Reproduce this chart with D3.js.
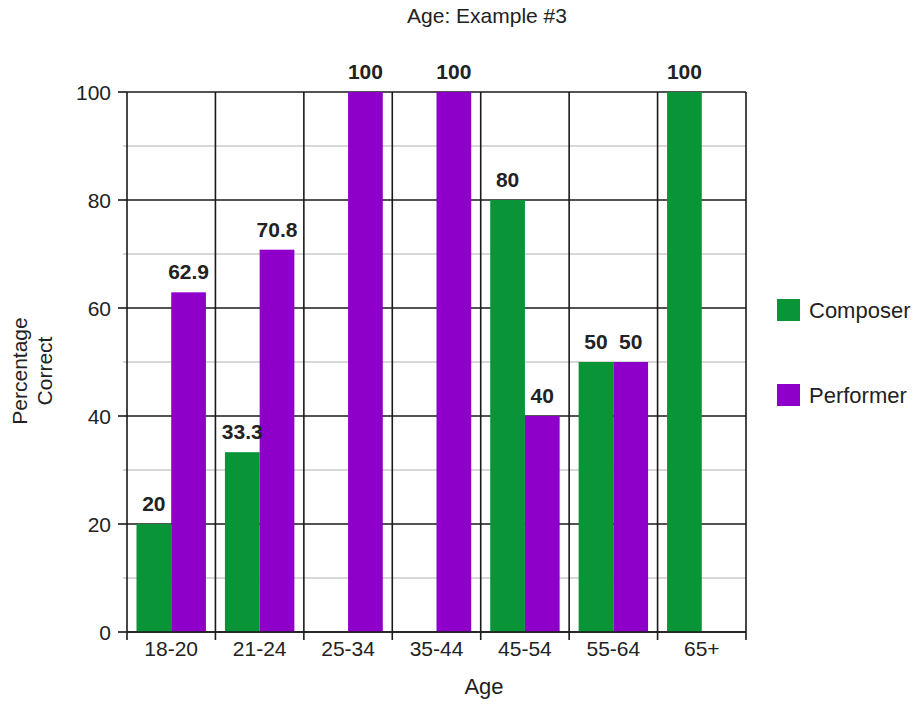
<!DOCTYPE html>
<html>
<head>
<meta charset="utf-8">
<script src="https://cdn.jsdelivr.net/npm/d3@7"></script>
<style>
  html, body { margin: 0; padding: 0; background: #fff; }
  svg { display: block; font-family: "Liberation Sans", Arial, sans-serif; }
</style>
</head>
<body>
<svg id="chart" width="919" height="704"></svg>
<script>
const categories = ["18-20", "21-24", "25-34", "35-44", "45-54", "55-64", "65+"];
const seriesNames = ["Composer", "Performer"];
const composer = [20, 33.3, null, null, 80, 50, 100];
const performer = [62.9, 70.8, 100, 100, 40, 50, null];
const yTicks = [0, 20, 40, 60, 80, 100];
const yMinorTicks = [10, 30, 50, 70, 90];
const colors = ["#0a9438", "#8e00c9"];
const chartTitle = "Age: Example #3";
const xTitle = "Age";
const yTitle = ["Percentage", "Correct"];

(function () {
const svg = d3.select("#chart");
const pL = 127, pR = 746, pT = 92, pB = 632;

const x0 = d3.scaleBand().domain(categories).range([pL, pR]).padding(0);
const bw = x0.bandwidth();
const x1 = d3.scaleBand().domain(seriesNames).range([9.5, bw - 9.5]).padding(0);
const y = d3.scaleLinear().domain([0, 100]).range([pB, pT]);

const textColor = "#222";

// minor gridlines
svg.append("g").selectAll("line").data(yMinorTicks).join("line")
  .attr("x1", pL - 4).attr("x2", pR)
  .attr("y1", d => y(d)).attr("y2", d => y(d))
  .attr("stroke", "#b0b0b0").attr("stroke-width", 1);

// major gridlines
svg.append("g").selectAll("line").data(yTicks).join("line")
  .attr("x1", pL).attr("x2", pR)
  .attr("y1", d => y(d)).attr("y2", d => y(d))
  .attr("stroke", "#1a1a1a").attr("stroke-width", 1.6);

// vertical gridlines at band boundaries
const bounds = categories.map(c => x0(c)).concat([pR]);
svg.append("g").selectAll("line").data(bounds).join("line")
  .attr("x1", d => d).attr("x2", d => d)
  .attr("y1", pT).attr("y2", pB + 8)
  .attr("stroke", "#1a1a1a").attr("stroke-width", 1.6);

// bars
const data = [];
categories.forEach((c, i) => {
  [composer, performer].forEach((arr, s) => {
    if (arr[i] != null) data.push({ cat: c, s: seriesNames[s], si: s, v: arr[i] });
  });
});

svg.append("g").selectAll("rect").data(data).join("rect")
  .attr("x", d => x0(d.cat) + x1(d.s))
  .attr("width", x1.bandwidth())
  .attr("y", d => y(d.v))
  .attr("height", d => y(0) - y(d.v))
  .attr("fill", d => colors[d.si]);

// bottom axis line redraw
svg.append("line").attr("x1", pL).attr("x2", pR).attr("y1", pB).attr("y2", pB)
  .attr("stroke", "#1a1a1a").attr("stroke-width", 1.6);

// value labels
svg.append("g").selectAll("text").data(data).join("text")
  .attr("x", d => x0(d.cat) + x1(d.s) + x1.bandwidth() / 2)
  .attr("y", d => y(d.v) - 13)
  .attr("text-anchor", "middle")
  .attr("font-size", 21).attr("font-weight", "bold")
  .attr("fill", textColor)
  .text(d => d.v);

// y axis ticks & labels
const yAxis = svg.append("g");
yAxis.selectAll("line").data(yTicks).join("line")
  .attr("x1", pL - 9).attr("x2", pL)
  .attr("y1", d => y(d)).attr("y2", d => y(d))
  .attr("stroke", "#1a1a1a").attr("stroke-width", 1.6);
yAxis.selectAll("text").data(yTicks).join("text")
  .attr("x", pL - 16).attr("y", d => y(d)).attr("dy", "0.36em")
  .attr("text-anchor", "end").attr("font-size", 21).attr("fill", textColor)
  .text(d => d);

// x labels
svg.append("g").selectAll("text").data(categories).join("text")
  .attr("x", d => x0(d) + bw / 2).attr("y", 656)
  .attr("text-anchor", "middle").attr("font-size", 21).attr("fill", textColor)
  .text(d => d);

// titles
svg.append("text").attr("x", 487).attr("y", 23).attr("text-anchor", "middle")
  .attr("font-size", 21).attr("fill", textColor).text(chartTitle);
svg.append("text").attr("x", 484).attr("y", 694).attr("text-anchor", "middle")
  .attr("font-size", 22).attr("fill", textColor).text(xTitle);
const yt = svg.append("text").attr("transform", "translate(27,371) rotate(-90)")
  .attr("text-anchor", "middle").attr("font-size", 21).attr("fill", textColor);
yt.selectAll("tspan").data(yTitle).join("tspan")
  .attr("x", 0).attr("dy", (d, i) => i === 0 ? 0 : "1.2em").text(d => d);

// legend
const legend = svg.append("g").selectAll("g").data(seriesNames).join("g")
  .attr("transform", (d, i) => `translate(777,${299 + i * 85})`);
legend.append("rect").attr("width", 23).attr("height", 22).attr("fill", (d, i) => colors[i]);
legend.append("text").attr("x", 32).attr("y", 19).attr("font-size", 22).attr("fill", textColor).text(d => d);
})();
</script>
</body>
</html>
